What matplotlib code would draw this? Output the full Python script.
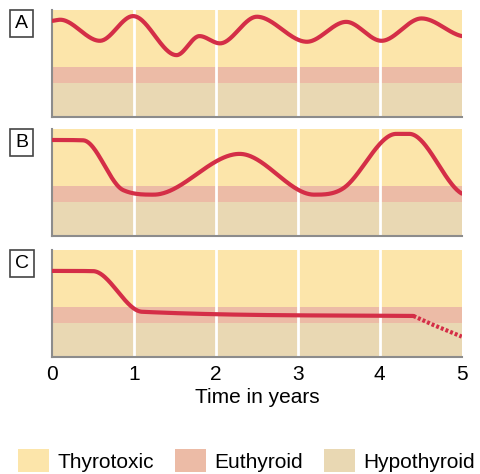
import numpy as np
import matplotlib
matplotlib.use("Agg")
import matplotlib.pyplot as plt
from matplotlib.patches import Patch

plt.rcParams['font.family'] = ['Liberation Sans', 'DejaVu Sans']

# zones (arbitrary thyroid-level scale, 0 = bottom of panel)
zone_names = ['Thyrotoxic', 'Euthyroid', 'Hypothyroid']
zone_colors = ['#fce5aa', '#ecbba6', '#e9d8b3']
zone_edges = [10.0, 4.7, 3.2, 0.0]

# course A: fluctuating thyrotoxicosis
a_x = [0.0, 0.1, 0.585, 0.99, 1.52, 1.80, 2.05, 2.50, 3.11, 3.59, 4.02, 4.51, 5.0]
a_y = [9.0, 9.1, 7.13, 9.44, 5.79, 7.57, 6.89, 9.38, 7.04, 8.9, 7.13, 9.22, 7.57]

# course B: relapsing / remitting
b_x = [0.0, 0.38, 0.87, 1.24, 2.29, 3.2, 3.55, 4.2, 4.36, 5.0]
b_y = [8.98, 8.95, 4.29, 3.87, 7.68, 3.87, 4.44, 9.55, 9.55, 3.97]

# course C: remission, later hypothyroid (dotted)
c_x = [0.0, 0.5, 1.1, 4.41]
c_y = [8.04, 8.02, 4.22, 3.83]
c_dot_x = [4.41, 4.65, 5.0]
c_dot_y = [3.83, 3.0, 1.9]

year_ticks = [0, 1, 2, 3, 4, 5]


def smooth(x, y, n=500):
    # cubic hermite through the read points (flat at extrema), just for drawing
    x = np.asarray(x, float); y = np.asarray(y, float)
    h = np.diff(x); d = np.diff(y) / h
    m = np.zeros_like(y)
    for k in range(1, len(x) - 1):
        if d[k - 1] * d[k] > 0:
            c = (y[k + 1] - y[k - 1]) / (x[k + 1] - x[k - 1])
            lim = 3 * min(abs(d[k - 1]), abs(d[k]))
            m[k] = np.sign(c) * min(abs(c), lim)
    m[-1] = 0.5 * d[-1]
    xs = np.linspace(x[0], x[-1], n)
    i = np.clip(np.searchsorted(x, xs) - 1, 0, len(h) - 1)
    t = (xs - x[i]) / h[i]
    h00 = 2 * t**3 - 3 * t**2 + 1; h10 = t**3 - 2 * t**2 + t
    h01 = -2 * t**3 + 3 * t**2; h11 = t**3 - t**2
    ys = h00 * y[i] + h10 * h[i] * m[i] + h01 * y[i + 1] + h11 * h[i] * m[i + 1]
    return xs, ys


fig = plt.figure(figsize=(4.81, 4.74), dpi=100)
boxes = [(0.753, 'A', a_x, a_y), (0.502, 'B', b_x, b_y), (0.247, 'C', c_x, c_y)]
line_col = '#d42e47'

for bottom, lab, xs, ys in boxes:
    ax = fig.add_axes([0.108, bottom, 0.852, 0.2257])
    for k in range(3):
        ax.axhspan(zone_edges[k + 1], zone_edges[k], color=zone_colors[k], lw=0, zorder=0)
    for yr in year_ticks[1:-1]:
        ax.axvline(yr, color='white', lw=2, zorder=1)
    sx, sy = smooth(xs, ys)
    ax.plot(sx, sy, color=line_col, lw=3, solid_capstyle='round', zorder=3)
    if lab == 'C':
        ax.plot(c_dot_x, c_dot_y, color=line_col, lw=3, ls=(0, (0.7, 0.5)), zorder=3)
        ax.set_xticks(year_ticks)
        ax.tick_params(length=0, labelsize=15, pad=6)
        ax.set_xlabel('Time in years', fontsize=15, labelpad=3)
    else:
        ax.set_xticks([])
    ax.set_yticks([])
    ax.set_xlim(0, 5)
    ax.set_ylim(0, 10)
    for s in ['top', 'right']:
        ax.spines[s].set_visible(False)
    for s in ['left', 'bottom']:
        ax.spines[s].set_color('#8c8c8c')
        ax.spines[s].set_linewidth(1.5)
    fig.text(0.045, bottom + 0.2257 - 0.01, lab, fontsize=14, ha='center', va='top',
             bbox=dict(boxstyle='square,pad=0.25', fc='white', ec='#444444', lw=1.2))

handles = [Patch(color=c, lw=0) for c in zone_colors]
fig.legend(handles, zone_names, loc='center', bbox_to_anchor=(0.5125, 0.028), ncol=3,
           frameon=False, fontsize=15, handlelength=1.5, handleheight=1.3,
           handletextpad=0.4, columnspacing=1.0, borderaxespad=0)

fig.savefig('out.png', dpi=100)
